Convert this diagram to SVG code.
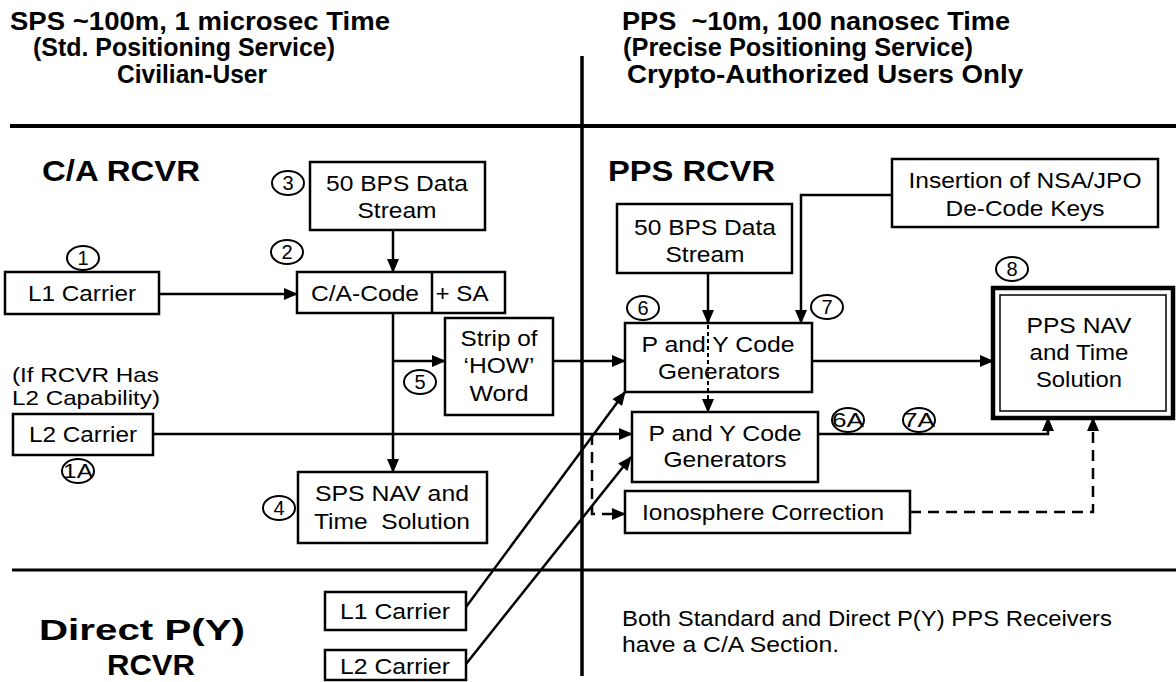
<svg xmlns="http://www.w3.org/2000/svg" width="1176" height="682" viewBox="0 0 1176 682">
<defs>
<marker id="ah" viewBox="0 0 14 12" markerWidth="15" markerHeight="12" refX="13" refY="6" orient="auto" markerUnits="userSpaceOnUse"><path d="M0,0 L14,6 L0,12 z" fill="#000"/></marker>
</defs>
<style>
.t{font-family:"Liberation Sans",Arial,Helvetica,sans-serif;font-size:22px;fill:#000;text-anchor:middle}
.s{text-anchor:start}
.h{font-weight:bold;font-size:25px}
.r{font-weight:bold;font-size:30px}
.d{font-weight:bold;font-size:30px}
.n{font-size:21px}
.box{fill:#fff;stroke:#000;stroke-width:2.5}
.ln{fill:none;stroke:#000;stroke-width:2.5}
.dv{fill:none;stroke:#000}
.ds{stroke-dasharray:11 7}
.dt{stroke-dasharray:4 3;stroke-width:2}
.c ellipse{fill:#fff;stroke:#000;stroke-width:2}
.c text{font-family:"Liberation Sans",Arial,sans-serif;font-size:20px;text-anchor:middle;fill:#000}
</style>
<rect width="1176" height="682" fill="#fff"/>

<g id="layout">
<line class="dv" x1="10" y1="126" x2="1176" y2="126" stroke-width="4"/>
<line class="dv" x1="12" y1="570" x2="1176" y2="570" stroke-width="3"/>
<line class="dv" x1="582" y1="56" x2="582" y2="676" stroke-width="3.5"/>
<text class="t s h" x="10" y="30" textLength="380" lengthAdjust="spacingAndGlyphs">SPS ~100m, 1 microsec Time</text>
<text class="t s h" x="33" y="56" textLength="302" lengthAdjust="spacingAndGlyphs">(Std. Positioning Service)</text>
<text class="t s h" x="117" y="83" textLength="150" lengthAdjust="spacingAndGlyphs">Civilian-User</text>
<text class="t s h" x="622" y="30" textLength="388" lengthAdjust="spacingAndGlyphs" xml:space="preserve">PPS  ~10m, 100 nanosec Time</text>
<text class="t s h" x="623" y="56" textLength="350" lengthAdjust="spacingAndGlyphs">(Precise Positioning Service)</text>
<text class="t s h" x="627" y="83" textLength="396" lengthAdjust="spacingAndGlyphs">Crypto-Authorized Users Only</text>
<text class="t s r" x="42" y="181" textLength="158" lengthAdjust="spacingAndGlyphs">C/A RCVR</text>
<text class="t s r" x="608" y="181" textLength="167" lengthAdjust="spacingAndGlyphs">PPS RCVR</text>
<text class="t d" x="142" y="640" textLength="206" lengthAdjust="spacingAndGlyphs">Direct P(Y)</text>
<text class="t d" x="151" y="675" textLength="88" lengthAdjust="spacingAndGlyphs">RCVR</text>
<text class="t s n" x="12" y="382" textLength="147" lengthAdjust="spacingAndGlyphs">(If RCVR Has</text>
<text class="t s n" x="12" y="405" textLength="148" lengthAdjust="spacingAndGlyphs">L2 Capability)</text>
<text class="t s" x="622" y="626" textLength="490" lengthAdjust="spacingAndGlyphs">Both Standard and Direct P(Y) PPS Receivers</text>
<text class="t s" x="622" y="652" textLength="217" lengthAdjust="spacingAndGlyphs">have a C/A Section.</text>
</g>

<g id="connectors">
<line class="ln" x1="159" y1="294" x2="297" y2="294" marker-end="url(#ah)"/>
<line class="ln" x1="393" y1="230" x2="393" y2="272" marker-end="url(#ah)"/>
<line class="ln" x1="393" y1="313" x2="393" y2="472" marker-end="url(#ah)"/>
<line class="ln" x1="393" y1="361" x2="445" y2="361" marker-end="url(#ah)"/>
<line class="ln" x1="553" y1="361" x2="625" y2="361" marker-end="url(#ah)"/>
<line class="ln" x1="708" y1="273" x2="708" y2="323" marker-end="url(#ah)"/>
<polyline class="ln" points="892,195 801,195 801,323" marker-end="url(#ah)"/>
<line class="ln" x1="812" y1="361" x2="993" y2="361" marker-end="url(#ah)"/>
<line class="ln" x1="153" y1="434" x2="632" y2="434" marker-end="url(#ah)"/>
<polyline class="ln" points="818,434 1048,434 1048,418" marker-end="url(#ah)"/>
<polyline class="ln ds" points="592,434 592,514 625,514" marker-end="url(#ah)"/>
<polyline class="ln ds" points="910,512 1093,512 1093,418" marker-end="url(#ah)"/>
<line class="ln" x1="466" y1="607" x2="625" y2="392" marker-end="url(#ah)"/>
<line class="ln" x1="466" y1="664" x2="631" y2="457" marker-end="url(#ah)"/>
</g>

<g id="l1-carrier"><rect class="box" x="5" y="272" width="154" height="42"/><text class="t" x="82" y="301" textLength="108" lengthAdjust="spacingAndGlyphs">L1 Carrier</text></g>
<g id="ca-data-stream"><rect class="box" x="310" y="162" width="175" height="68"/><text class="t" x="397" y="191" textLength="142" lengthAdjust="spacingAndGlyphs">50 BPS Data</text><text class="t" x="397" y="218" textLength="79" lengthAdjust="spacingAndGlyphs">Stream</text></g>
<g id="ca-code"><rect class="box" x="297" y="272" width="208" height="41"/><line class="ln" x1="432" y1="272" x2="432" y2="313"/><text class="t" x="365" y="301" textLength="108" lengthAdjust="spacingAndGlyphs">C/A-Code</text><text class="t" x="462" y="301" textLength="53" lengthAdjust="spacingAndGlyphs">+ SA</text></g>
<g id="strip-how"><rect class="box" x="445" y="318" width="108" height="97"/><text class="t" x="499" y="346" textLength="77" lengthAdjust="spacingAndGlyphs">Strip of</text><text class="t" x="499" y="373" textLength="71" lengthAdjust="spacingAndGlyphs">‘HOW’</text><text class="t" x="499" y="401" textLength="59" lengthAdjust="spacingAndGlyphs">Word</text></g>
<g id="sps-nav"><rect class="box" x="298" y="472" width="189" height="71" stroke-width="3.5"/><text class="t" x="392" y="501" textLength="154" lengthAdjust="spacingAndGlyphs">SPS NAV and</text><text class="t" x="392" y="529" textLength="156" lengthAdjust="spacingAndGlyphs" xml:space="preserve">Time  Solution</text></g>
<g id="l2-carrier"><rect class="box" x="13" y="414" width="140" height="41"/><text class="t" x="83" y="442" textLength="108" lengthAdjust="spacingAndGlyphs">L2 Carrier</text></g>
<g id="pps-data-stream"><rect class="box" x="617" y="204" width="175" height="69"/><text class="t" x="705" y="235" textLength="142" lengthAdjust="spacingAndGlyphs">50 BPS Data</text><text class="t" x="705" y="262" textLength="79" lengthAdjust="spacingAndGlyphs">Stream</text></g>
<g id="py-gen-1"><rect class="box" x="625" y="323" width="187" height="69"/><text class="t" x="718" y="352" textLength="153" lengthAdjust="spacingAndGlyphs">P and Y Code</text><text class="t" x="719" y="379" textLength="122" lengthAdjust="spacingAndGlyphs">Generators</text><line class="ln dt" x1="708" y1="325" x2="708" y2="412" marker-end="url(#ah)"/></g>
<g id="insertion"><rect class="box" x="892" y="159" width="266" height="68"/><text class="t" x="1025" y="188" textLength="233" lengthAdjust="spacingAndGlyphs">Insertion of NSA/JPO</text><text class="t" x="1025" y="216" textLength="159" lengthAdjust="spacingAndGlyphs">De-Code Keys</text></g>
<g id="pps-nav"><rect x="993" y="288" width="180" height="130" fill="#fff" stroke="#000" stroke-width="4.5"/><rect x="1000" y="295" width="166" height="116" fill="none" stroke="#000" stroke-width="1.5"/><text class="t" x="1079" y="333" textLength="105" lengthAdjust="spacingAndGlyphs">PPS NAV</text><text class="t" x="1079" y="360" textLength="99" lengthAdjust="spacingAndGlyphs">and Time</text><text class="t" x="1079" y="387" textLength="86" lengthAdjust="spacingAndGlyphs">Solution</text></g>
<g id="py-gen-2"><rect class="box" x="632" y="412" width="186" height="70"/><text class="t" x="725" y="441" textLength="153" lengthAdjust="spacingAndGlyphs">P and Y Code</text><text class="t" x="725" y="467" textLength="123" lengthAdjust="spacingAndGlyphs">Generators</text></g>
<g id="ionosphere"><rect class="box" x="625" y="491" width="285" height="42"/><text class="t" x="763" y="520" textLength="242" lengthAdjust="spacingAndGlyphs">Ionosphere Correction</text></g>
<g id="direct-l1"><rect class="box" x="325" y="592" width="141" height="38"/><text class="t" x="395" y="619" textLength="110" lengthAdjust="spacingAndGlyphs">L1 Carrier</text></g>
<g id="direct-l2"><rect class="box" x="325" y="650" width="141" height="30"/><text class="t" x="395" y="674" textLength="110" lengthAdjust="spacingAndGlyphs">L2 Carrier</text></g>

<g id="markers" class="c">
<g id="m1"><ellipse cx="83" cy="258" rx="16" ry="12"/><text x="83" y="265">1</text></g>
<g id="m2"><ellipse cx="287" cy="252" rx="16" ry="12"/><text x="287" y="259">2</text></g>
<g id="m3"><ellipse cx="288" cy="183" rx="16" ry="12"/><text x="288" y="190">3</text></g>
<g id="m4"><ellipse cx="279" cy="508" rx="16" ry="12"/><text x="279" y="515">4</text></g>
<g id="m5"><ellipse cx="420" cy="382" rx="16" ry="12"/><text x="420" y="389">5</text></g>
<g id="m6"><ellipse cx="643" cy="308" rx="16" ry="12"/><text x="643" y="315">6</text></g>
<g id="m7"><ellipse cx="827" cy="307" rx="16" ry="12"/><text x="827" y="314">7</text></g>
<g id="m8"><ellipse cx="1012" cy="269" rx="16" ry="12"/><text x="1012" y="276">8</text></g>
<g id="m1a"><ellipse cx="78" cy="471" rx="16" ry="12"/><text x="78" y="478" textLength="30" lengthAdjust="spacingAndGlyphs">1A</text></g>
<g id="m6a"><ellipse cx="848" cy="420" rx="16" ry="12"/><text x="848" y="427" textLength="32" lengthAdjust="spacingAndGlyphs">6A</text></g>
<g id="m7a"><ellipse cx="919" cy="420" rx="16" ry="12"/><text x="919" y="427" textLength="32" lengthAdjust="spacingAndGlyphs">7A</text></g>
</g>
</svg>
